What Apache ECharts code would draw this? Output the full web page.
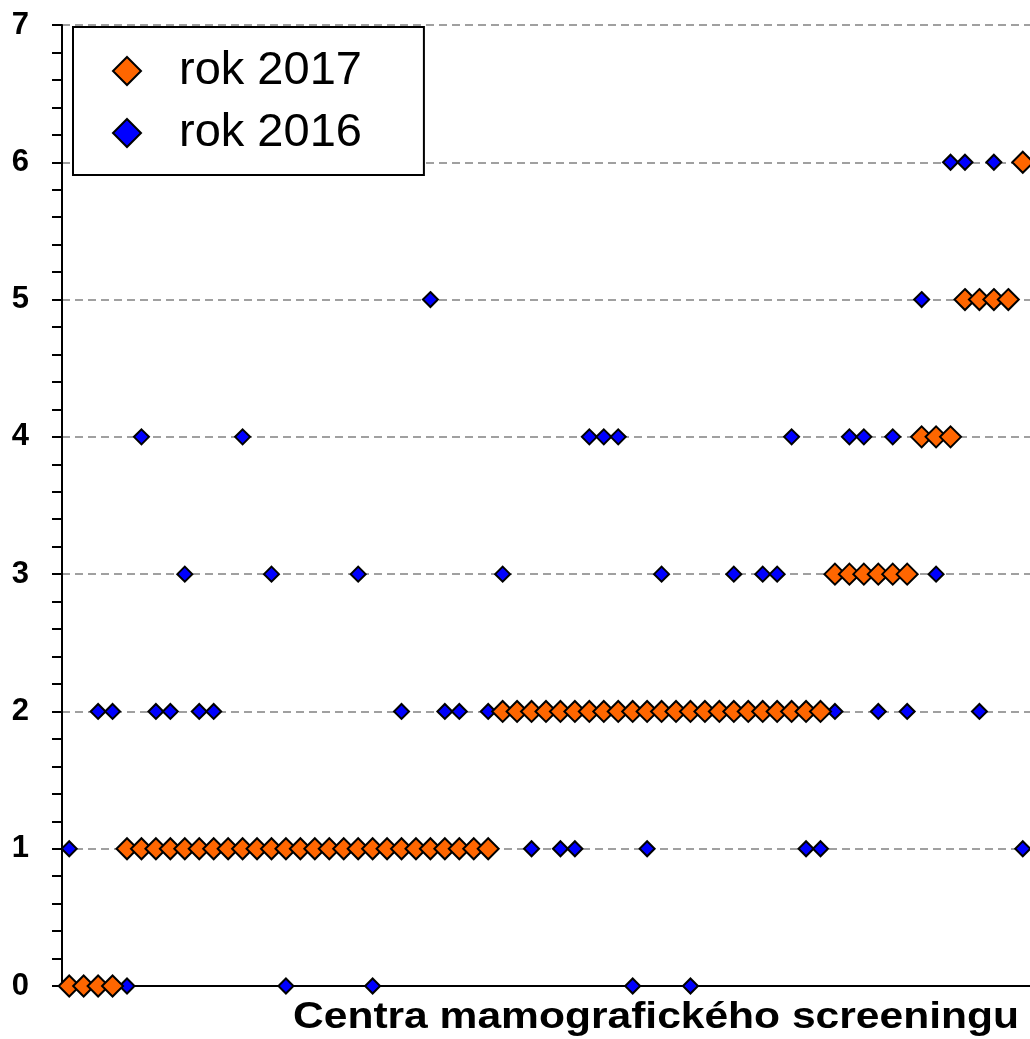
<!DOCTYPE html>
<html>
<head>
<meta charset="utf-8">
<script src="https://cdn.jsdelivr.net/npm/echarts@6/dist/echarts.min.js"></script>
<style>
  html, body { margin: 0; padding: 0; background: #fff; }
  #chart { width: 1030px; height: 1039px; }
</style>
</head>
<body>
<div id="chart"></div>
<script>
// Screening centres, ordered by their 2017 value
const centres = Array.from({ length: 67 }, (_, i) => 'C' + (i + 1));

// Values per centre, 2017
const values2017 = [
  0, 0, 0, 0,
  1, 1, 1, 1, 1, 1, 1, 1, 1, 1, 1, 1, 1, 1, 1, 1, 1, 1, 1, 1, 1, 1, 1, 1, 1, 1,
  2, 2, 2, 2, 2, 2, 2, 2, 2, 2, 2, 2, 2, 2, 2, 2, 2, 2, 2, 2, 2, 2, 2,
  3, 3, 3, 3, 3, 3,
  4, 4, 4,
  5, 5, 5, 5,
  6
];

// Values per centre, 2016 (same centre order)
const values2016 = [
  1, 0, 2, 2, 0, 4, 2, 2, 3, 2,
  2, 1, 4, 1, 3, 0, 1, 1, 1, 1,
  3, 0, 1, 2, 1, 5, 2, 2, 1, 2,
  3, 2, 1, 2, 1, 1, 4, 4, 4, 0,
  1, 3, 2, 0, 2, 2, 3, 2, 3, 3,
  4, 1, 1, 2, 4, 4, 2, 4, 2, 5,
  3, 6, 6, 2, 6, 5, 1
];

const yTicks = [0, 1, 2, 3, 4, 5, 6, 7];

const FONT = "'Liberation Sans', Arial, sans-serif";

const chart = echarts.init(document.getElementById('chart'), null, { renderer: 'canvas' });

chart.setOption({
  backgroundColor: '#ffffff',
  animation: false,
  grid: { left: 62, right: 0, top: 25, bottom: 53, containLabel: false },
  legend: {
    left: 73,
    top: 27,
    orient: 'vertical',
    data: ['rok 2017', 'rok 2016'],
    backgroundColor: '#ffffff',
    borderColor: '#000000',
    borderWidth: 2,
    borderRadius: 0,
    padding: [18, 62, 16, 39],
    itemWidth: 28,
    itemHeight: 28,
    itemGap: 10,
    selectedMode: false,
    textStyle: {
      fontFamily: FONT,
      fontSize: 47,
      color: '#000',
      lineHeight: 52,
      padding: [0, 0, 0, 33]
    }
  },
  xAxis: {
    type: 'category',
    data: centres,
    boundaryGap: true,
    axisLine: { show: true, onZero: false, lineStyle: { color: '#000', width: 2 } },
    axisTick: { show: false },
    axisLabel: { show: false },
    splitLine: { show: false },
    z: 1
  },
  yAxis: {
    type: 'value',
    min: yTicks[0],
    max: yTicks[yTicks.length - 1],
    interval: 1,
    axisLine: { show: true, lineStyle: { color: '#000', width: 2 } },
    axisTick: { show: true, inside: false, length: 10, lineStyle: { color: '#000', width: 2 } },
    minorTick: { show: true, splitNumber: 5, length: 10, lineStyle: { color: '#000', width: 2 } },
    axisLabel: {
      margin: 33,
      fontFamily: FONT,
      fontWeight: 'bold',
      fontSize: 31,
      color: '#000'
    },
    splitLine: {
      show: true,
      lineStyle: { color: '#a0a0a0', width: 2, type: [8, 5] }
    }
  },
  graphic: [
    {
      type: 'text',
      x: 293,
      y: 999,
      scaleX: 1.15,
      z: 10,
      style: {
        text: 'Centra mamografického screeningu',
        font: 'bold 37px ' + FONT,
        fill: '#000'
      }
    }
  ],
  series: [
    {
      name: 'rok 2016',
      type: 'scatter',
      symbol: 'diamond',
      symbolSize: 15,
      clip: false,
      z: 2,
      itemStyle: { color: '#0000ff', borderColor: '#000', borderWidth: 2, opacity: 1 },
      data: values2016
    },
    {
      name: 'rok 2017',
      type: 'scatter',
      symbol: 'diamond',
      symbolSize: 21,
      clip: false,
      z: 3,
      itemStyle: { color: '#ff6600', borderColor: '#000', borderWidth: 2, opacity: 1 },
      data: values2017
    }
  ]
});
</script>
</body>
</html>
